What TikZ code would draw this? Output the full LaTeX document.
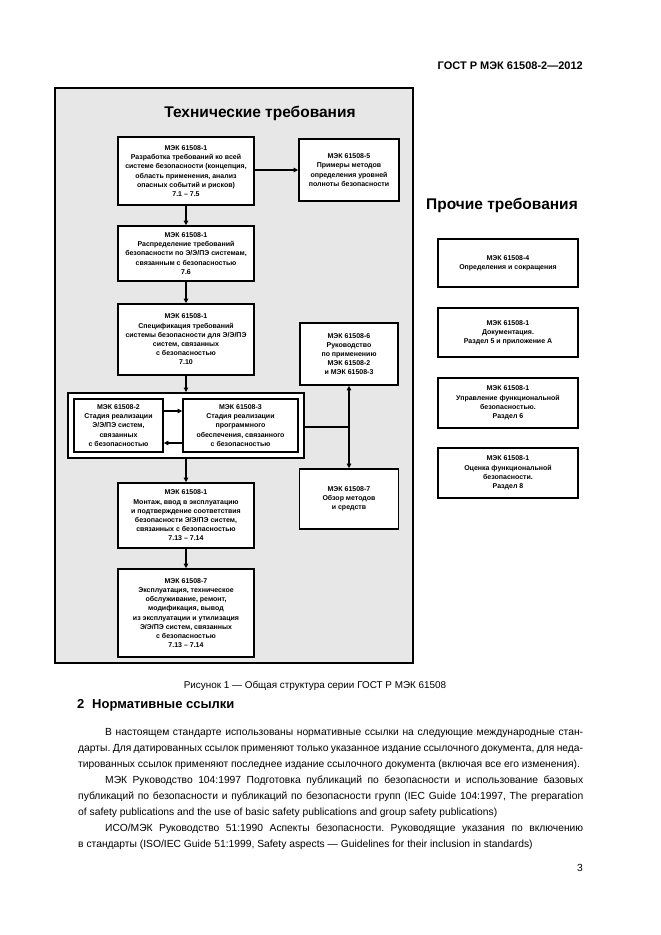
\documentclass[tikz,border=0pt]{standalone}
\usepackage{fontspec}
\setmainfont{Liberation Sans}
\usetikzlibrary{arrows.meta}
\definecolor{framegray}{RGB}{231,231,231}
\newcommand\boxfont{\fontsize{7}{9.2}\selectfont\bfseries}
\newcommand\bodyfont{\fontsize{10.3}{12}\selectfont\frenchspacing}
\begin{document}
\begin{tikzpicture}[x=1pt,y=-1pt,
  bx/.style={draw,line width=1.7pt,fill=white,align=center,inner sep=1pt,font=\boxfont},
  rbx/.style={draw,line width=1.3pt,fill=white,align=center,inner sep=1pt,font=\boxfont,minimum width=140pt},
  arr/.style={line width=1.3pt,-{Triangle[length=4.5pt,width=4.5pt]}},
  darr/.style={line width=1.3pt,{Triangle[length=4.5pt,width=4.5pt]}-{Triangle[length=4.5pt,width=4.5pt]}},
  plainline/.style={line width=1.3pt},
  title/.style={font=\fontsize{15.5}{18}\selectfont\bfseries,inner sep=0pt},
  txt/.style={font=\bodyfont,inner sep=0pt,anchor=west},
]
\useasboundingbox[fill=white] (0,0) rectangle (661,935);

% header
\node[font=\fontsize{11}{13}\selectfont\bfseries,anchor=east,inner sep=0pt] (hdr) at (583,66) {ГОСТ Р МЭК 61508-2—2012};

% big frame
\node[draw,line width=2.5pt,fill=framegray,minimum width=358pt,minimum height=575pt,inner sep=0pt] (frm) at (234,375.5) {};
\node[title] (t1) at (260,113) {Технические требования};

% left column
\node[bx,minimum width=136pt,minimum height=68pt] (A) at (186,171) {МЭК 61508-1\\Разработка требований ко всей\\системе безопасности (концепция,\\область применения, анализ\\опасных событий и рисков)\\7.1 – 7.5};
\node[bx,minimum width=100pt,minimum height=62pt] (B) at (349,170) {МЭК 61508-5\\Примеры методов\\определения уровней\\полноты безопасности};
\node[bx,minimum width=136pt,minimum height=55pt] (C) at (186,253.5) {МЭК 61508-1\\Распределение требований\\безопасности по Э/Э/ПЭ системам,\\связанным с безопасностью\\7.6};
\node[bx,minimum width=136pt,minimum height=71pt] (D) at (186,339.5) {МЭК 61508-1\\Спецификация требований\\системы безопасности для Э/Э/ПЭ\\систем, связанных\\с безопасностью\\7.10};
\node[bx,minimum width=98pt,minimum height=62pt] (E) at (349,354) {МЭК 61508-6\\Руководство\\по применению\\МЭК 61508-2\\и МЭК 61508-3};

\node[draw,line width=2pt,fill=white,minimum width=236pt,minimum height=65pt,inner sep=0pt] (grp) at (186,425.5) {};
\node[bx,minimum width=89pt,minimum height=53pt] (G2) at (118.5,425.5) {МЭК 61508-2\\Стадия реализации\\Э/Э/ПЭ систем,\\связанных\\с безопасностью};
\node[bx,minimum width=115pt,minimum height=53pt] (G3) at (240.5,425.5) {МЭК 61508-3\\Стадия реализации\\программного\\обеспечения, связанного\\с безопасностью};

\node[bx,minimum width=136pt,minimum height=65pt] (F) at (186,515.5) {МЭК 61508-1\\Монтаж, ввод в эксплуатацию\\и подтверждение соответствия\\безопасности Э/Э/ПЭ систем,\\связанных с безопасностью\\7.13 – 7.14};
\node[bx,minimum width=99pt,minimum height=60pt] (G) at (349,499) {МЭК 61508-7\\Обзор методов\\и средств};
\node[bx,minimum width=136pt,minimum height=88pt] (H) at (186,613) {МЭК 61508-7\\Эксплуатация, техническое\\обслуживание, ремонт,\\модификация, вывод\\из эксплуатации и утилизация\\Э/Э/ПЭ систем, связанных\\с безопасностью\\7.13 – 7.14};

% connectors
\draw[arr] (A.south) -- (C.north);
\draw[arr] (A.east |- B.west) -- (B.west);
\draw[arr] (C.south) -- (D.north);
\draw[arr] (D.south) -- (grp.north);
\draw[arr] (grp.south) -- (F.north);
\draw[arr] (F.south) -- (H.north);
\draw[arr] ([yshift=14.5pt]G2.east) -- ([yshift=14.5pt]G2.east -| G3.west);
\draw[arr] ([yshift=-17.5pt]G3.west) -- ([yshift=-17.5pt]G3.west -| G2.east);
\draw[darr] (E.south) -- (G.north);
\coordinate (J) at (grp.east -| E.south);
\draw[plainline] ([yshift=-1.5pt]grp.east) -- ([yshift=-1.5pt]J);

% right column
\node[title] (t2) at (502,205) {Прочие требования};
\node[rbx,minimum height=48pt] (R1) at (508,263) {МЭК 61508-4\\Определения и сокращения};
\node[rbx,minimum height=49pt] (R2) at (508,332.5) {МЭК 61508-1\\Документация.\\Раздел 5 и приложение А};
\node[rbx,minimum height=50pt] (R3) at (508,403) {МЭК 61508-1\\Управление функциональной\\безопасностью.\\Раздел 6};
\node[rbx,minimum height=50pt] (R4) at (508,473) {МЭК 61508-1\\Оценка функциональной\\безопасности.\\Раздел 8};

% caption and text
\node[font=\fontsize{9.9}{11}\selectfont,inner sep=0pt] (cap) at (315,686) {Рисунок 1 — Общая структура серии ГОСТ Р МЭК 61508};
\node[font=\fontsize{13}{15}\selectfont\bfseries,inner sep=0pt,anchor=west] (sec) at (77,705) {2\hspace{0.6em}Нормативные ссылки};

\node[txt] (l1) at (105,733) {\hbox to 478pt{В настоящем стандарте использованы нормативные ссылки на следующие международные стан-}};
\node[txt] (l2) at (78,749) {\hbox to 505pt{дарты. Для датированных ссылок применяют только указанное издание ссылочного документа, для неда-}};
\node[txt] (l3) at (78,765) {тированных ссылок применяют последнее издание ссылочного документа (включая все его изменения).};
\node[txt] (l4) at (105,781) {\hbox to 478pt{МЭК Руководство 104:1997 Подготовка публикаций по безопасности и использование базовых}};
\node[txt] (l5) at (78,797) {\hbox to 505pt{публикаций по безопасности и публикаций по безопасности групп (IEC Guide 104:1997, The preparation}};
\node[txt] (l6) at (78,813) {of safety publications and the use of basic safety publications and group safety publications)};
\node[txt] (l7) at (105,829) {\hbox to 478pt{ИСО/МЭК Руководство 51:1990 Аспекты безопасности. Руководящие указания по включению}};
\node[txt] (l8) at (78,845) {в стандарты (ISO/IEC Guide 51:1999, Safety aspects — Guidelines for their inclusion in standards)};
\node[font=\bodyfont,inner sep=0pt] (pg) at (580,868) {3};
\end{tikzpicture}
\end{document}
